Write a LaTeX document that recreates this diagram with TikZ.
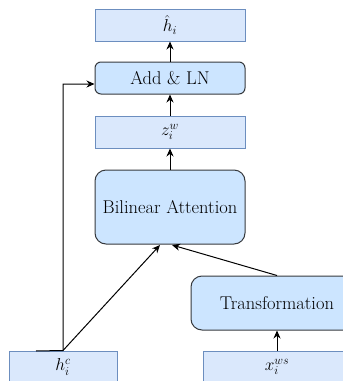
\documentclass[tikz,border=0pt]{standalone}
\usetikzlibrary{arrows.meta}
\definecolor{plainfill}{HTML}{DAE8FC}
\definecolor{plainline}{HTML}{6C8EBF}
\definecolor{blockfill}{HTML}{CCE5FF}
\definecolor{blockline}{HTML}{36393D}
\tikzset{
	databox/.style={draw=plainline, fill=plainfill, minimum height=32pt, inner sep=0pt},
	blockbox/.style={draw=blockline, fill=blockfill, rounded corners=11pt, inner sep=0pt},
	flow/.style={-{Stealth[length=8pt,width=7pt]}}
}
\begin{document}
\begin{tikzpicture}[x=1pt, y=-1pt, line width=1pt, font=\fontsize{18.5}{22}\selectfont]
	\useasboundingbox (0,0) rectangle (343,381);
	\node[databox, minimum width=150pt] (hhat) at (170,25) {$\hat{h}_i$};
	\node[blockbox, rounded corners=6pt, minimum width=150pt, minimum height=32pt] (addln) at (170,78) {Add \& LN};
	\node[databox, minimum width=150pt] (zw) at (170,132) {$z_i^w$};
	\node[blockbox, minimum width=150pt, minimum height=74pt] (bilin) at (170,207) {Bilinear Attention};
	\node[blockbox, minimum width=172pt, minimum height=54pt] (trans) at (277,303) {Transformation};
	\node[databox, minimum width=108pt] (hc) at (63,367) {$h_i^c$};
	\node[databox, minimum width=148pt] (xws) at (277,367) {$x_i^{ws}$};
	\draw[flow] (addln) -- (hhat);
	\draw[flow] (zw) -- (addln);
	\draw[flow] (bilin) -- (zw);
	\draw[flow] (xws) -- (trans);
	\coordinate (bilinleft) at (160,245);
	\coordinate (bilinright) at (172,245);
	\coordinate (hcfoot) at (36,351);
	\draw[flow] (hc.north) -- (bilinleft);
	\draw[flow] (trans.north) -- (bilinright);
	\draw[flow] (hcfoot) -- (hc.north) |- ([yshift=-6pt]addln.west);
\end{tikzpicture}
\end{document}
